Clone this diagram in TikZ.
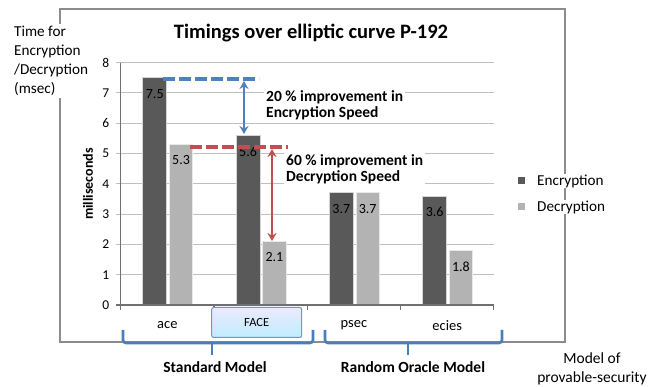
\documentclass[tikz,border=0pt]{standalone}
\usepackage{fontspec}
\setmainfont{Carlito}
\usetikzlibrary{arrows.meta}
\usepackage{xcolor}
\definecolor{encgray}{HTML}{595959}
\definecolor{decgray}{HTML}{B3B3B3}
\definecolor{gridgray}{HTML}{BFBFBF}
\definecolor{framegray}{HTML}{8C8C8C}
\definecolor{braceblue}{HTML}{4A7EBB}
\definecolor{gapblue}{HTML}{4F81BD}
\definecolor{gapred}{HTML}{C0504D}
\definecolor{faceline}{HTML}{6A97D6}

\begin{document}
\begin{tikzpicture}[x=1pt,y=-1pt,
		every node/.style={inner sep=0pt},
		frameline/.style={draw=framegray,line width=1.3pt},
		gridline/.style={draw=gridgray,line width=1.1pt},
		axisline/.style={draw=framegray!80!black,line width=1.1pt},
		encbar/.style={fill=encgray,draw=white!75!encgray,line width=0.8pt},
		decbar/.style={fill=decgray,draw=white!70!decgray,line width=0.8pt},
		vallabel/.style={font=\fontsize{14}{14}\selectfont},
		ticklabel/.style={font=\fontsize{13.5}{13.5}\selectfont,anchor=east},
		catlabel/.style={font=\fontsize{14.5}{14.5}\selectfont},
		remark/.style={font=\bfseries\fontsize{15.5}{16}\selectfont,align=left,fill=white,anchor=north west,inner sep=2pt},
		gapline/.style={dash pattern=on 12pt off 4pt,line width=3.8pt},
		improve/.style={{Stealth[length=8pt,width=9pt]}-{Stealth[length=8pt,width=9pt]},line width=2.4pt},
		modelbrace/.style={draw=braceblue,line width=2.6pt,rounded corners=3pt},
		modelname/.style={font=\bfseries\fontsize{15.5}{15.5}\selectfont}]
	\useasboundingbox (0,0) rectangle (664,387);
	\draw[frameline] (60,342) -- (60,9) -- (565,9) -- (565,342) -- cycle;
	\node[fill=white,inner sep=2pt,align=left,anchor=north west,font=\fontsize{15.2}{19}\selectfont] (ylabel) at (12,24) {Time for\\Encryption\\/Decryption\\(msec)};
	\node[font=\bfseries\fontsize{20.5}{20.5}\selectfont] (title) at (311,33) {Timings over elliptic curve P-192};
	\node[rotate=90,font=\bfseries\fontsize{14}{14}\selectfont] (msec) at (88,184) {milliseconds};
	\begin{scope}[shift={(120.7,305)},x=93.3pt,y=30.3pt]
		\foreach \v in {1,...,8}
			\draw[gridline] (-0.05,\v) -- (4,\v);
		\foreach \v in {0,...,8}
			\node[ticklabel] at (-0.12,\v) {\v};
	\end{scope}
	\node[remark] (encnote) at (264,88) {20 \% improvement in\\Encryption Speed};
	\node[remark] (decnote) at (284,152) {60 \% improvement in\\Decryption Speed};
	\begin{scope}[shift={(120.7,305)},x=93.3pt,y=30.3pt]
		\foreach \i/\e/\d in {0/7.5/5.3,1/5.6/2.1,2/3.7/3.7,3/3.6/1.8}{
			\draw[encbar] (\i+0.236,0) rectangle (\i+0.493,\e);
			\draw[decbar] (\i+0.522,0) rectangle (\i+0.772,\d);
			\node[vallabel] at (\i+0.365,\e-0.53) {\e};
			\node[vallabel] at (\i+0.647,\d-0.53) {\d};
		}
		\draw[axisline] (0,0) -- (0,8);
		\draw[axisline] (-0.05,0) -- (4,0);
		\foreach \i in {0,...,4}
			\draw[axisline] (\i,0) -- (\i,-0.17);
		\node[catlabel] (ace) at (0.5,-0.67) {ace};
		\node[catlabel] (psec) at (2.5,-0.67) {psec};
		\node[catlabel] (ecies) at (3.5,-0.67) {ecies};
	\end{scope}
	\node[draw=faceline,line width=1pt,rounded corners=2pt,top color=blue!8,bottom color=blue!30!cyan!25,
		minimum width=90pt,minimum height=30pt,font=\fontsize{12.5}{12.5}\selectfont] (face) at (256.7,322.5) {FACE};
	\coordinate (encstart) at (163,79);
	\coordinate (encend) at (259,79);
	\coordinate (decstart) at (190,147);
	\coordinate (decend) at (288,147);
	\coordinate (enctop) at (244,81);
	\coordinate (facetop) at (244,134);
	\coordinate (dectop) at (272,149);
	\coordinate (facedec) at (272,241);
	\draw[gapline,gapblue] (encstart) -- (encend);
	\draw[gapline,gapred] (decstart) -- (decend);
	\draw[improve,gapblue] (enctop) -- (facetop);
	\draw[improve,gapred] (dectop) -- (facedec);
	\fill[encgray] (517.5,177.5) rectangle ++(7,7);
	\fill[decgray] (517.5,203.5) rectangle ++(7,7);
	\node[fill=white,inner sep=1pt,anchor=west,font=\fontsize{15.2}{15.2}\selectfont] (encleg) at (536,181) {Encryption};
	\node[fill=white,inner sep=1pt,anchor=west,font=\fontsize{15.2}{15.2}\selectfont] (decleg) at (536,207) {Decryption};
	\draw[modelbrace] (123,330) -- (123,343) -- (313,343) -- (313,330);
	\draw[modelbrace] (212,343) -- (212,355);
	\draw[modelbrace] (325,330) -- (325,343) -- (502,343) -- (502,330);
	\draw[modelbrace] (408,343) -- (408,355);
	\node[modelname] (stdmodel) at (215,367) {Standard Model};
	\node[modelname] (romodel) at (413,367) {Random Oracle Model};
	\node[align=center,font=\fontsize{15.5}{19}\selectfont] (provable) at (592,369) {Model of\\provable-security};
\end{tikzpicture}
\end{document}
